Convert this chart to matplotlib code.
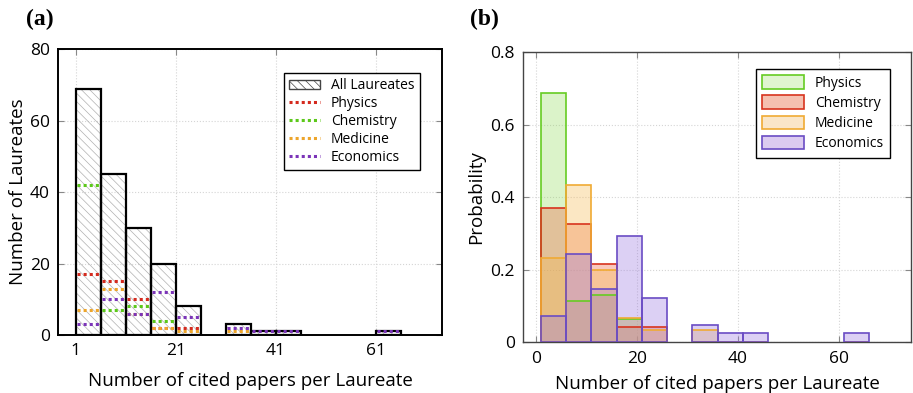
import numpy as np
import matplotlib.pyplot as plt
from matplotlib.patches import Patch
from matplotlib.lines import Line2D

plt.rcParams['font.family'] = ['Open Sans', 'DejaVu Sans']
plt.rcParams['hatch.linewidth'] = 0.5

# bins of width 5 starting at 1
bin_edges = np.arange(1, 67, 5)

# counts per bin (labels as in panel (a))
all_laureates = np.array([69, 45, 30, 20, 8, 0, 3, 1, 1, 0, 0, 0, 1])
physics = np.array([17, 15, 10, 2, 2, 0, 0, 0, 0, 0, 0, 0, 0])
chemistry = np.array([42, 7, 8, 4, 0, 0, 0, 0, 0, 0, 0, 0, 0])
medicine = np.array([7, 13, 6, 2, 1, 0, 1, 0, 0, 0, 0, 0, 0])
economics = np.array([3, 10, 6, 12, 5, 0, 2, 1, 1, 0, 0, 0, 1])

labels_a = ["Physics", "Chemistry", "Medicine", "Economics"]
colors_a = ["#d42a1e", "#5cc81a", "#eda52b", "#7b34b8"]

# panel (b) legend as printed in the figure
labels_b = ["Physics", "Chemistry", "Medicine", "Economics"]
colors_b = ["#66cc22", "#d8341e", "#f0aa33", "#6a4cc4"]
faces_b = ["#99dd66", "#ee6644", "#f5bb55", "#9c7ae0"]

xticks_a = [1, 21, 41, 61]
xticks_b = [0, 20, 40, 60]

fig = plt.figure(figsize=(9.13, 3.93), dpi=100)
ax1 = fig.add_axes([0.0639, 0.1476, 0.4203, 0.7270])
ax2 = fig.add_axes([0.5732, 0.1290, 0.4246, 0.7379])

left = bin_edges[:-1]
w = 5

# ---- (a)
nz = all_laureates > 0
ax1.bar(left[nz], all_laureates[nz], w, align='edge', fill=False,
        hatch='\\\\\\\\', edgecolor='#b0b0b0', lw=0, zorder=2)
ax1.bar(left[nz], all_laureates[nz], w, align='edge', fill=False,
        edgecolor='black', lw=1.6, zorder=3)

for data, c in zip([physics, chemistry, medicine, economics], colors_a):
    m = data > 0
    ax1.hlines(data[m], left[m] + 0.3, left[m] + w - 0.3, colors=c,
               linestyles=(0, (1, 1)), lw=2.2, zorder=4)

ax1.set_xlim(-2.5, 74.3)
ax1.set_ylim(0, 80)
ax1.set_xticks(xticks_a)
ax1.set_yticks([0, 20, 40, 60, 80])
ax1.set_xlabel("Number of cited papers per Laureate", fontsize=13.5, labelpad=9)
ax1.set_ylabel("Number of Laureates", fontsize=13.5, labelpad=2)
for s in ax1.spines.values():
    s.set_linewidth(1.4)

handles_a = [Patch(fill=False, edgecolor='#444444', hatch='\\\\\\\\', lw=1)]
handles_a += [Line2D([], [], color=c, ls=(0, (1, 1)), lw=2.2) for c in colors_a]
ax1.legend(handles_a, ["All Laureates"] + labels_a, loc='upper right',
           bbox_to_anchor=(0.961, 0.9415), fancybox=False, edgecolor='black',
           framealpha=1, fontsize=10, handlelength=2.2, labelspacing=0.2,
           borderpad=0.4, handletextpad=0.8)

# ---- (b)
shown = all_laureates > 0
for data, c, fc, lab in zip([chemistry, physics, medicine, economics],
                            colors_b, faces_b, labels_b):
    p = data / data.sum()
    ax2.bar(left[shown], p[shown], w, align='edge', color=fc, alpha=0.35,
            lw=0, zorder=2)
    ax2.bar(left[shown], p[shown], w, align='edge', fill=False,
            edgecolor=c, lw=1.2, zorder=3)

ax2.set_xlim(-2.5, 74.3)
ax2.set_ylim(0, 0.8)
ax2.set_xticks(xticks_b)
ax2.set_yticks([0, 0.2, 0.4, 0.6, 0.8])
ax2.set_yticklabels(["0", "0.2", "0.4", "0.6", "0.8"])
ax2.set_xlabel("Number of cited papers per Laureate", fontsize=13.5, labelpad=6)
ax2.set_ylabel("Probability", fontsize=13.5)
for s in ax2.spines.values():
    s.set_linewidth(1.0)
    s.set_color('#444444')

handles_b = [Patch(facecolor=fc, edgecolor=c, lw=1.2)
             for c, fc in zip(colors_b, ['#e0f5d0', '#f5c0b0', '#fae6c8', '#dccbf0'])]
ax2.legend(handles_b, labels_b, loc='upper right', bbox_to_anchor=(0.964, 0.9666),
           fancybox=False, edgecolor='black', framealpha=1, fontsize=10,
           handlelength=3.0, handleheight=1.1, labelspacing=0.35,
           borderpad=0.45, handletextpad=0.8)

for ax in (ax1, ax2):
    ax.grid(True, ls=':', color='#d5d5d5', lw=0.8, zorder=0)
    ax.set_axisbelow(True)
    ax.tick_params(direction='in', top=True, right=True, color='#888888',
                   length=4, labelsize=12.5, pad=6)

fig.text(40 / 913, 1 - 19 / 393, "(a)", family='Liberation Serif',
         fontweight='bold', fontsize=17, ha='center', va='center')
fig.text(484 / 913, 1 - 19 / 393, "(b)", family='Liberation Serif',
         fontweight='bold', fontsize=17, ha='center', va='center')

fig.savefig("out.png", dpi=100)
